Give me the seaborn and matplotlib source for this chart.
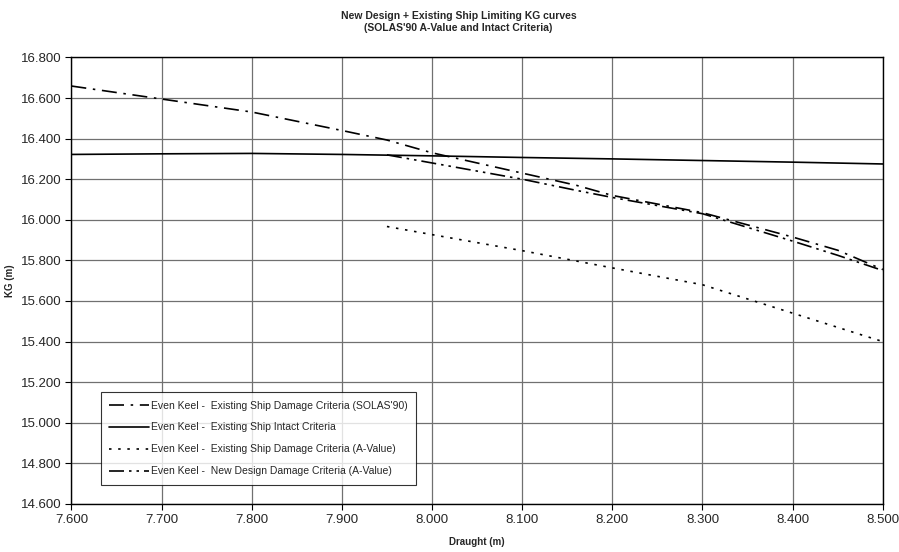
import pandas as pd
import matplotlib.pyplot as plt
import matplotlib.ticker as mticker
import seaborn as sns

# Draught (m) / limiting KG (m)
solas_x  = [7.60, 7.70, 7.80, 7.90, 7.95, 8.00, 8.10, 8.16, 8.20, 8.30, 8.40, 8.45, 8.50]
solas_kg = [16.659, 16.595, 16.531, 16.440, 16.393, 16.330, 16.230, 16.170, 16.120, 16.035, 15.915, 15.850, 15.755]

intact_x  = [7.60, 7.70, 7.80, 7.90, 8.00, 8.10, 8.20, 8.30, 8.40, 8.50]
intact_kg = [16.322, 16.325, 16.327, 16.322, 16.315, 16.307, 16.300, 16.292, 16.284, 16.275]

avalue_x  = [7.95, 8.00, 8.10, 8.20, 8.30, 8.40, 8.50]
avalue_kg = [15.967, 15.927, 15.848, 15.763, 15.680, 15.540, 15.400]

newdes_x  = [7.95, 8.00, 8.10, 8.16, 8.20, 8.30, 8.40, 8.45, 8.50]
newdes_kg = [16.320, 16.280, 16.200, 16.145, 16.110, 16.030, 15.895, 15.825, 15.750]

labels = [
    "Even Keel -  Existing Ship Damage Criteria (SOLAS'90)",
    "Even Keel -  Existing Ship Intact Criteria",
    "Even Keel -  Existing Ship Damage Criteria (A-Value)",
    "Even Keel -  New Design Damage Criteria (A-Value)",
]

x_ticks = [7.6, 7.7, 7.8, 7.9, 8.0, 8.1, 8.2, 8.3, 8.4, 8.5]
y_ticks = [14.6, 14.8, 15.0, 15.2, 15.4, 15.6, 15.8, 16.0, 16.2, 16.4, 16.6, 16.8]

sns.set_style("white")
plt.rcParams['font.family'] = ['Liberation Sans', 'DejaVu Sans']

fig = plt.figure(figsize=(8.99, 5.52), dpi=100)
ax = fig.add_axes([0.0794, 0.087, 0.9026, 0.809])

series = [
    (solas_x, solas_kg, (0, (9, 4, 1.5, 4))),
    (intact_x, intact_kg, '-'),
    (avalue_x, avalue_kg, (0, (1.5, 4))),
    (newdes_x, newdes_kg, (0, (9, 3, 1.5, 3, 1.5, 3))),
]
for (xs, ys, ls), lab in zip(series, labels):
    df = pd.DataFrame({'Draught': xs, 'KG': ys})
    sns.lineplot(data=df, x='Draught', y='KG', ax=ax, color='black',
                 linewidth=1.2, linestyle=ls, label=lab)

ax.set_xlim(7.6, 8.5)
ax.set_ylim(14.6, 16.8)
ax.set_xticks(x_ticks)
ax.set_yticks(y_ticks)
ax.xaxis.set_major_formatter(mticker.FormatStrFormatter('%.3f'))
ax.yaxis.set_major_formatter(mticker.FormatStrFormatter('%.3f'))
ax.tick_params(axis='both', labelsize=9.5, direction='out', length=4,
               width=0.8, color='black', bottom=True, left=True, pad=3)
ax.grid(True, color='#707070', linewidth=0.9)
ax.set_axisbelow(True)
for s in ax.spines.values():
    s.set_color('black')
    s.set_linewidth(1.0)

ax.set_xlabel('Draught (m)', fontsize=7, fontweight='bold', labelpad=8)
ax.set_ylabel('KG (m)', fontsize=7, fontweight='bold')
ax.yaxis.set_label_coords(-0.07, 0.5)
fig.suptitle("New Design + Existing Ship Limiting KG curves\n(SOLAS'90 A-Value and Intact Criteria)",
             fontsize=7.5, fontweight='bold', x=0.51, y=0.98, linespacing=1.3)

leg = ax.legend(loc='lower left', bbox_to_anchor=(0.036, 0.043), fontsize=7.5,
                frameon=True, fancybox=False, handlelength=3.8, handletextpad=0.2,
                labelspacing=1.15, borderpad=0.8, borderaxespad=0)
leg.get_frame().set_edgecolor('black')
leg.get_frame().set_linewidth(0.8)

plt.savefig('out.png', dpi=100)
